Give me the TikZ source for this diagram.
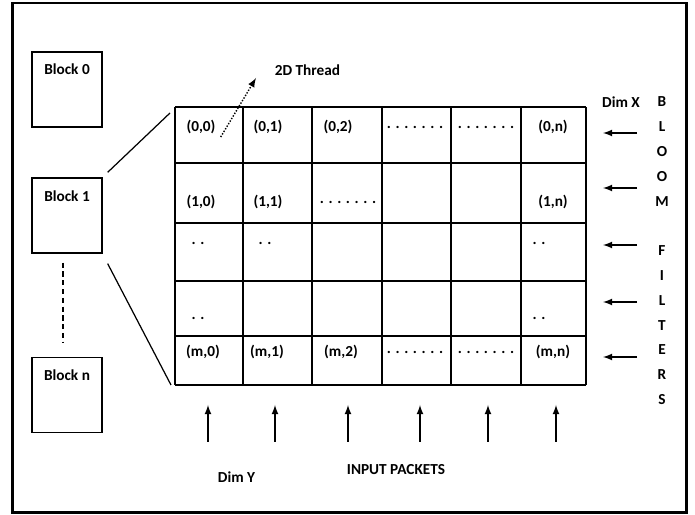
\documentclass[tikz,border=0pt]{standalone}
\usepackage{fontspec}
\setmainfont{Carlito}
\usepackage{tikz}
\usetikzlibrary{arrows,positioning}

\tikzset{
  blk/.style={draw, line width=0.75pt, minimum width=1.4cm, minimum height=1.5cm},
  grd/.style={line width=0.9pt},
  arr/.style={line width=0.8pt, -latex},
}

\begin{document}
\begin{tikzpicture}[font=\fontsize{8.7}{10}\selectfont\bfseries]
            \useasboundingbox (0,0) rectangle (13.9,10.3);

            % Outer frame
            \draw[line width=1.2pt] (0.25,0.05) rectangle (13.73,10.24);

            % Blocks
            \node[blk] (b0) at (1.34,8.51) {};
            \node[blk] (b1) at (1.34,5.99) {};
            \node[blk] (bn) at (1.34,2.40) {};
            \node (t0) at ([yshift=-0.36cm]b0.north) {Block 0};
            \node (t1) at ([yshift=-0.38cm]b1.north) {Block 1};
            \node (tn) at ([yshift=-0.36cm]bn.north) {Block n};
            \draw[line width=0.7pt, dash pattern=on 3pt off 2pt]
                ([shift={(-0.08,-0.18)}]b1.south) -- ([shift={(-0.08,0.28)}]bn.north);

            % The grid
            \foreach \x in {3.5,4.86,6.24,7.64,9.02,10.42,11.72} \draw[grd] (\x,2.60) -- (\x,8.16);
            \foreach \y in {8.16,7.04,5.84,4.68,3.58,2.60} \draw[grd] (3.5,\y) -- (11.72,\y);
            \coordinate (gtl) at (3.5,8.16);
            \coordinate (gbl) at (3.5,2.60);

            % Block 1 opened up
            \draw[line width=0.7pt] ([shift={(0.1,0.1)}]b1.north east) -- ([shift={(-0.1,-0.12)}]gtl);
            \draw[line width=0.7pt] ([shift={(0.1,-0.2)}]b1.south east) -- ([xshift=-0.08cm]gbl);

            % Row 0
            \node (c00) at (4.02,7.76) {(0,0)};
            \node (c01) at (5.36,7.76) {(0,1)};
            \node (c02) at (6.76,7.76) {(0,2)};
            \node (c03) at (8.30,7.76) {. . . . . . .};
            \node (c04) at (9.72,7.76) {. . . . . . .};
            \node (c05) at (11.06,7.76) {(0,n)};

            % Row 1
            \node (c10) at (4.02,6.26) {(1,0)};
            \node (c11) at (5.36,6.26) {(1,1)};
            \node (c12) at (6.96,6.26) {. . . . . . .};
            \node (c15) at (11.06,6.26) {(1,n)};

            % Rows 2 and 3
            \node (c20) at (3.96,5.44) {. .};
            \node (c21) at (5.30,5.44) {. .};
            \node (c25) at (10.78,5.44) {. .};
            \node (c30) at (3.96,3.94) {. .};
            \node (c35) at (10.78,3.94) {. .};

            % Row m
            \node (c40) at (4.06,3.26) {(m,0)};
            \node (c41) at (5.34,3.26) {(m,1)};
            \node (c42) at (6.82,3.26) {(m,2)};
            \node (c43) at (8.30,3.26) {. . . . . . .};
            \node (c44) at (9.72,3.26) {. . . . . . .};
            \node (c45) at (11.06,3.26) {(m,n)};

            % Thread label
            \node (thr) at (6.15,8.90) {2D Thread};
            \coordinate (tip) at (5.12,8.74);
            \draw[line width=0.8pt, dash pattern=on 0.8pt off 0.9pt, -latex] ([shift={(-0.02,0.06)}]c00.south east) -- (tip);

            % Dim X side
            \node (dx) at (12.42,8.26) {Dim X};
            \foreach \y [count=\i] in {7.64,6.54,5.40,4.26,3.16} {
                \coordinate (ra\i) at (12.74,\y);
                \coordinate (rb\i) at (12.06,\y);
                \draw[arr] (ra\i) -- (rb\i);
            }
            \foreach \l [count=\i from 0] in {B,L,O,O,M} \node (bf\i) at (13.24,8.26-0.496*\i) {\l};
            \foreach \l [count=\i from 6] in {F,I,L,T,E,R,S} \node (bf\i) at (13.24,8.26-0.496*\i) {\l};

            % Dim Y side
            \foreach \x [count=\i] in {4.16,5.50,6.96,8.40,9.76,11.12} {
                \coordinate (ua\i) at (\x,1.46);
                \coordinate (ub\i) at (\x,2.20);
                \draw[arr] (ua\i) -- (ub\i);
            }
            \node (dy) at (4.73,0.76) {Dim Y};
            \node (inp) at (7.92,0.90) {INPUT PACKETS};

        \end{tikzpicture}
\end{document}
